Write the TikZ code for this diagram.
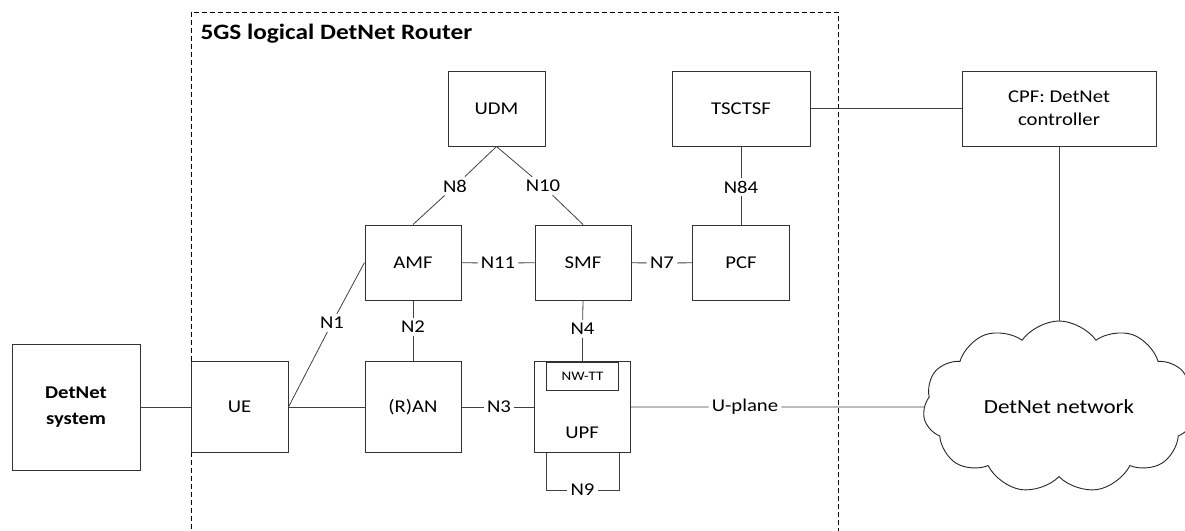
\documentclass[tikz,border=0pt]{standalone}
\usepackage{fontspec}
\setmainfont[FakeStretch=1.15]{Carlito}
\usetikzlibrary{shapes.symbols}

\begin{document}
\begin{tikzpicture}[x=1pt, y=-1pt,
  font=\fontsize{18}{23}\selectfont,
  box/.style={draw=black!80, line width=1pt, rectangle, fill=white, inner sep=0pt, align=center},
  link/.style={draw=black!75, line width=0.8pt},
  iface/.style={inner sep=3pt}]

\useasboundingbox (0,0) rectangle (1185,530);

% Routeur logique 5GS
\draw[dash pattern=on 5pt off 3pt, line width=0.8pt] (191,12) rectangle (838,545);
\node[font=\fontsize{22}{26}\selectfont\bfseries, anchor=west] (title) at (197,34) {5GS logical DetNet Router};

% Plan de controle
\node[box, minimum width=97pt, minimum height=75pt] (udm) at (496.5,108.5) {UDM};
\node[box, minimum width=138pt, minimum height=75pt] (tsctsf) at (741,108.5) {TSCTSF};
\node[box, minimum width=96pt, minimum height=75pt] (amf) at (413,262.5) {AMF};
\node[box, minimum width=96pt, minimum height=75pt] (smf) at (583,262.5) {SMF};
\node[box, minimum width=97pt, minimum height=75pt] (pcf) at (741,262.5) {PCF};

% Plan usager
\node[box, minimum width=97pt, minimum height=91pt] (ue) at (239.5,407) {UE};
\node[box, minimum width=96pt, minimum height=91pt] (ran) at (413,407) {(R)AN};
\node[box, minimum width=96pt, minimum height=91pt] (upf) at (582,407) {};
\node[box, minimum width=72pt, minimum height=28pt, font=\fontsize{13}{15}\selectfont] (nwtt) at (582.5,376) {NW-TT};
\node (upftext) at (582,433) {UPF};

% Externe
\node[box, minimum width=128pt, minimum height=126pt, font=\fontsize{18}{26}\selectfont\bfseries] (sys) at (76,407) {DetNet\\system};
\node[box, minimum width=194pt, minimum height=75pt] (cpf) at (1059,108.5) {CPF: DetNet\\controller};
\node[cloud, draw=black!85, line width=0.9pt, cloud puffs=11, cloud puff arc=110, aspect=1.6,
      minimum width=272pt, minimum height=172pt, inner sep=0pt, font=\fontsize{20}{24}\selectfont] (net) at (1059,407) {DetNet network};

% Interfaces
\node[iface] (n8) at (455,186) {N8};
\node[iface] (n10) at (543,186) {N10};
\node[iface] (n11) at (498,263) {N11};
\node[iface] (n7) at (662,263) {N7};
\node[iface] (n84) at (741,187) {N84};
\node[iface] (n1) at (332,323) {N1};
\node[iface] (n2) at (413,327) {N2};
\node[iface] (n4) at (582.5,329) {N4};
\node[iface] (n3) at (499,407) {N3};
\node[iface] (n9) at (582.5,490) {N9};
\node[iface] (uplane) at (745,407) {U-plane};

% Connexions
\draw[link] (udm.south) -- (n8) -- (amf.north);
\draw[link] (udm.south) -- (n10) -- (smf.north);
\draw[link] (amf) -- (n11) -- (smf);
\draw[link] (smf) -- (n7) -- (pcf);
\draw[link] (tsctsf) -- (n84) -- (pcf);
\draw[link] (ue.east) -- (n1) -- (amf.west);
\draw[link] (amf) -- (n2) -- (ran);
\draw[link] (smf.south) -- (n4) -- (nwtt.north);
\draw[link] (ue) -- (ran);
\draw[link] (ran) -- (n3) -- (upf);
\draw[link] (nwtt.west |- upf.south) |- (n9);
\draw[link] (nwtt.east |- upf.south) |- (n9);
\draw[link] (upf) -- (uplane) -- (net);
\draw[link] (sys) -- (ue);
\draw[link] (tsctsf) -- (cpf);
\draw[link] (cpf) -- (net);

\end{tikzpicture}
\end{document}
